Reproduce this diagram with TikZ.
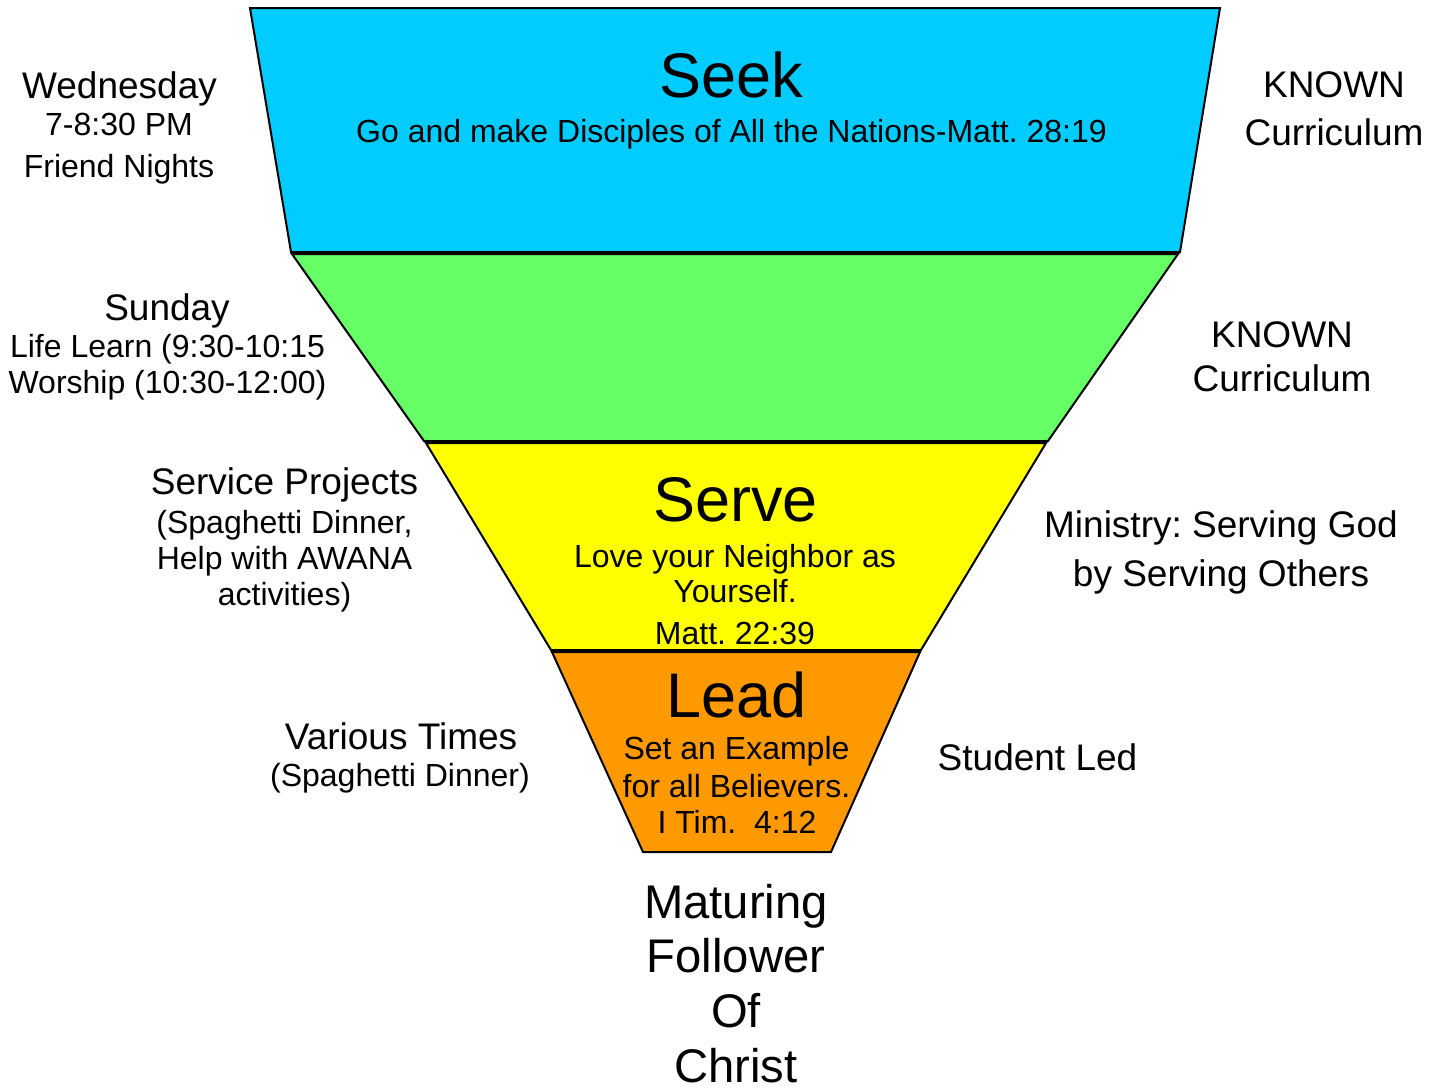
\documentclass[tikz,border=0pt]{standalone}
\usepackage{fontspec}
\setmainfont{Liberation Sans}
\definecolor{seekblue}{HTML}{00CCFF}
\definecolor{bandgreen}{HTML}{66FF66}
\definecolor{serveyellow}{HTML}{FFFF00}
\definecolor{leadorange}{HTML}{FF9900}
\frenchspacing
\begin{document}
\begin{tikzpicture}[x=0.5pt,y=-0.5pt,
  band/.style={draw=black,line width=1pt,line join=miter},
  txt/.style={inner sep=0pt,anchor=base},
  sm/.style={txt,font=\fontsize{16}{19}\selectfont},
  md/.style={txt,font=\fontsize{18.5}{22}\selectfont},
  big/.style={txt,font=\fontsize{31.5}{36}\selectfont},
  fin/.style={txt,font=\fontsize{23.6}{28}\selectfont}]
\useasboundingbox (0,0) rectangle (1442,1089);
% Seek band
\path[band,fill=seekblue] (250,8) -- (1220,8) -- (1180,252) -- (291,252) -- cycle;
\node[big] (seek) at (731,97) {Seek};
\node[sm] (seekv) at (731.5,142) {Go and make Disciples of All the Nations-Matt. 28:19};
% Green band
\path[band,fill=bandgreen] (292,254) -- (1178,254) -- (1048,441) -- (424,441) -- cycle;
% Serve band
\path[band,fill=serveyellow] (426,443) -- (1046,443) -- (921,650) -- (551,650) -- cycle;
\node[big] (serve) at (735.5,521) {Serve};
\node[sm] (serve1) at (735,567) {Love your Neighbor as};
\node[sm] (serve2) at (735,602) {Yourself.};
\node[sm] (serve3) at (735,644) {Matt. 22:39};
% Lead band
\path[band,fill=leadorange] (552,652) -- (920,652) -- (831,852) -- (643,852) -- cycle;
\node[big] (lead) at (736.5,717) {Lead};
\node[sm] (lead1) at (736.5,759) {Set an Example};
\node[sm] (lead2) at (736.5,797) {for all Believers.};
\node[sm] (lead3) at (737,833) {I Tim.\ \ 4:12};
% Left texts
\node[md] (wed) at (119.5,98) {Wednesday};
\node[sm] (wed1) at (119,135) {7-8:30 PM};
\node[sm] (wed2) at (119,177) {Friend Nights};
\node[md] (sun) at (167,320) {Sunday};
\node[sm] (sun1) at (167.5,357) {Life Learn (9:30-10:15};
\node[sm] (sun2) at (167.5,393) {Worship (10:30-12:00)};
\node[md] (svc) at (284.5,494) {Service Projects};
\node[sm] (svc1) at (284.5,533) {(Spaghetti Dinner,};
\node[sm] (svc2) at (284.5,569) {Help with AWANA};
\node[sm] (svc3) at (284.5,605) {activities)};
\node[md] (var) at (401,749) {Various Times};
\node[sm] (var1) at (400,786) {(Spaghetti Dinner)};
% Right texts
\node[md] (known1) at (1334,97) {KNOWN};
\node[md] (curr1) at (1334,145) {Curriculum};
\node[md] (known2) at (1282,347) {KNOWN};
\node[md] (curr2) at (1282,391) {Curriculum};
\node[md] (min1) at (1221,537) {Ministry: Serving God};
\node[md] (min2) at (1221,586) {by Serving Others};
\node[md] (stud) at (1037.5,770) {Student Led};
% Bottom
\node[fin] (mat1) at (736,918) {Maturing};
\node[fin] (mat2) at (736,972) {Follower};
\node[fin] (mat3) at (736,1027) {Of};
\node[fin] (mat4) at (736,1082) {Christ};
\end{tikzpicture}
\end{document}
